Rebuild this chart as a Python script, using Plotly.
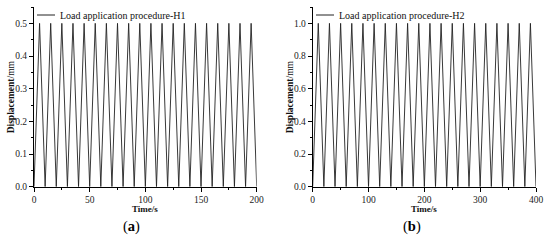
import plotly.graph_objects as go

# panel (a): H1, 10 s period, 0.5 mm peak
time_h1 = [0, 5, 10, 15, 20, 25, 30, 35, 40, 45, 50, 55, 60, 65, 70, 75, 80, 85, 90, 95, 100,
           105, 110, 115, 120, 125, 130, 135, 140, 145, 150, 155, 160, 165, 170, 175, 180, 185, 190, 195, 200]
disp_h1 = [0, 0.5, 0, 0.5, 0, 0.5, 0, 0.5, 0, 0.5, 0, 0.5, 0, 0.5, 0, 0.5, 0, 0.5, 0, 0.5, 0,
           0.5, 0, 0.5, 0, 0.5, 0, 0.5, 0, 0.5, 0, 0.5, 0, 0.5, 0, 0.5, 0, 0.5, 0, 0.5, 0]

# panel (b): H2, 20 s period, 1.0 mm peak
time_h2 = [0, 10, 20, 30, 40, 50, 60, 70, 80, 90, 100, 110, 120, 130, 140, 150, 160, 170, 180, 190, 200,
           210, 220, 230, 240, 250, 260, 270, 280, 290, 300, 310, 320, 330, 340, 350, 360, 370, 380, 390, 400]
disp_h2 = [0, 1.0, 0, 1.0, 0, 1.0, 0, 1.0, 0, 1.0, 0, 1.0, 0, 1.0, 0, 1.0, 0, 1.0, 0, 1.0, 0,
           1.0, 0, 1.0, 0, 1.0, 0, 1.0, 0, 1.0, 0, 1.0, 0, 1.0, 0, 1.0, 0, 1.0, 0, 1.0, 0]

names = ["Load application procedure-H1", "Load application procedure-H2"]
captions = ["(<b>a</b>)", "(<b>b</b>)"]

FONT = "Liberation Serif, Times New Roman, serif"
W, H = 550, 240

fig = go.Figure()
fig.add_trace(go.Scatter(x=time_h1, y=disp_h1, mode="lines", name=names[0],
                         line=dict(color="#222", width=0.9), xaxis="x", yaxis="y"))
fig.add_trace(go.Scatter(x=time_h2, y=disp_h2, mode="lines", name=names[1],
                         line=dict(color="#222", width=0.9), xaxis="x2", yaxis="y2"))

ydom = [1 - 186.7 / H, 1 - 7 / H]
xdom_a = [34 / W, 256.7 / W]
xdom_b = [312.7 / W, 536 / W]

def xax(dom, rng, dt, anchor):
    return dict(domain=dom, range=rng, dtick=dt, tick0=0, anchor=anchor, automargin=False,
                showline=True, linecolor="black", linewidth=1, showgrid=False, zeroline=False,
                ticks="outside", ticklen=4, tickcolor="black", tickwidth=1,
                minor=dict(dtick=dt / 2, ticks="outside", ticklen=2, tickcolor="black", showgrid=False),
                tickfont=dict(family=FONT, size=9.5, color="#222"))

def yax(rng, dt, anchor):
    return dict(domain=ydom, range=rng, dtick=dt, tick0=0, tickformat=".1f", anchor=anchor,
                automargin=False,
                showline=True, linecolor="black", linewidth=1, showgrid=False, zeroline=False,
                ticks="outside", ticklen=4, tickcolor="black", tickwidth=1,
                minor=dict(dtick=dt / 2, ticks="outside", ticklen=2, tickcolor="black", showgrid=False),
                tickfont=dict(family=FONT, size=9.5, color="#222"))

annots = []
shapes = []
for i, (x0, xc, cap_x) in enumerate([(37, 145, 131), (316, 424, 412)]):
    # legend line + text
    shapes.append(dict(type="line", xref="paper", yref="paper",
                       x0=x0 / W, x1=(x0 + 18) / W, y0=1 - 15 / H, y1=1 - 15 / H,
                       line=dict(color="#222", width=1)))
    annots.append(dict(text=names[i], xref="paper", yref="paper", x=(x0 + 21) / W, y=1 - 15 / H,
                       xanchor="left", yanchor="middle", showarrow=False,
                       font=dict(family=FONT, size=10, color="#111")))
    # x title
    annots.append(dict(text="<b>Time/s</b>", xref="paper", yref="paper", x=xc / W, y=1 - 209 / H,
                       xanchor="center", yanchor="middle", showarrow=False,
                       font=dict(family=FONT, size=9, color="#111")))
    # caption
    annots.append(dict(text=captions[i], xref="paper", yref="paper", x=cap_x / W, y=1 - 226.5 / H,
                       xanchor="center", yanchor="middle", showarrow=False,
                       font=dict(family=FONT, size=14.5, color="black")))
    # y title
    yx = 10.5 if i == 0 else 289.5
    annots.append(dict(text="<b>Displacement</b>/mm", xref="paper", yref="paper", x=yx / W,
                       y=(ydom[0] + ydom[1]) / 2, xanchor="center", yanchor="middle",
                       textangle=-90, showarrow=False,
                       font=dict(family=FONT, size=9.5, color="#111")))

fig.update_layout(
    width=W, height=H, margin=dict(l=0, r=0, t=0, b=0),
    paper_bgcolor="white", plot_bgcolor="white", showlegend=False,
    xaxis=xax(xdom_a, [0, 200], 50, "y"),
    yaxis=yax([0, 0.55], 0.1, "x"),
    xaxis2=xax(xdom_b, [0, 400], 100, "y2"),
    yaxis2=yax([0, 1.1], 0.2, "x2"),
    annotations=annots, shapes=shapes,
)

# page body has a default 8px margin; drop it so the figure sits at the window corner
fig.write_html("out.html", config={"displayModeBar": False},
               post_script="document.body.style.margin='0';")
